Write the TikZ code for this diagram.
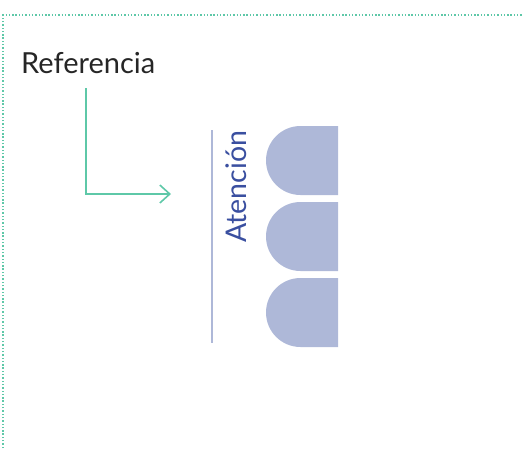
\documentclass[tikz,border=0pt]{standalone}
\usepackage{fontspec}
\setmainfont{Lato}
\usetikzlibrary{arrows.meta}
\definecolor{refgreen}{HTML}{5EC8A8}
\definecolor{tabblue}{HTML}{AEB8D8}
\definecolor{textblue}{HTML}{3A4FA0}
\tikzset{
  frameline/.style={refgreen, line width=1.4pt, dash pattern=on 1.4pt off 1.9pt},
  reflabel/.style={inner sep=0pt, font=\fontsize{29}{33}\selectfont, text=black!85},
  refarrow/.style={refgreen, line width=1.6pt, -{Straight Barb[length=10pt,width=18pt]}},
  barline/.style={tabblue, line width=2.4pt},
  tab/.style={fill=tabblue}
}
\begin{document}
\begin{tikzpicture}[x=1pt, y=-1pt]
        \useasboundingbox (0,0) rectangle (522,448);
        \draw[frameline] (3,448) -- (3,15) -- (522,15);

        \node[reflabel, anchor=base west] at (21,73) (ref) {Referencia};
        \coordinate (start) at (86,88);
        \coordinate (bend) at (86,194);
        \coordinate (target) at (171,194);
        \draw[refarrow] (start) -- (bend) -- (target);

        \draw[barline] (212,130) -- (212,343);
        \node[reflabel, text=textblue, font=\fontsize{28.5}{32}\selectfont, rotate=90, anchor=base west] at (246,243) (att) {Atención};

        \foreach \y in {126,202,278}
            \fill[tab] (338,\y) -- (300.5,\y) arc[start angle=270, end angle=90, radius=34.5] -- (338,\y+69) -- cycle;
    \end{tikzpicture}
\end{document}
